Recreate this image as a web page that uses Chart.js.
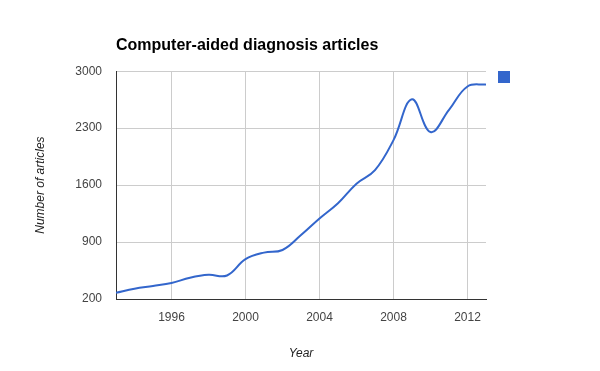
<!DOCTYPE html>
<html>
<head>
<meta charset="utf-8">
<script src="https://cdn.jsdelivr.net/npm/chart.js@4/dist/chart.umd.min.js"></script>
<style>
html,body{margin:0;padding:0;background:#fff;}
#wrap{width:600px;height:371px;position:relative;}
</style>
</head>
<body>
<div id="wrap"><canvas id="c" width="600" height="371"></canvas></div>
<script>
const years = [1993,1994,1995,1996,1997,1998,1999,2000,2001,2002,2003,2004,2005,2006,2007,2008,2009,2010,2011,2012,2013];
const articles = [277,327,360,396,462,497,489,689,770,802,986,1190,1378,1618,1784,2153,2654,2252,2525,2812,2838];
const xTicks = [1996,2000,2004,2008,2012];
const yTicks = [200,900,1600,2300,3000];

const legendSquare = {
  id: 'legendSquare',
  afterDraw(chart) {
    const a = chart.chartArea, ctx = chart.ctx;
    ctx.save();
    ctx.fillStyle = '#3366cc';
    ctx.fillRect(Math.round(a.right) + 12, Math.round(a.top), 12, 12);
    ctx.restore();
  }
};

new Chart(document.getElementById('c'), {
  type: 'line',
  data: {
    datasets: [{
      label: '',
      data: years.map((y, i) => ({x: y, y: articles[i]})),
      borderColor: '#3366cc',
      borderWidth: 2,
      pointRadius: 0,
      tension: 0.4,
      fill: false
    }]
  },
  options: {
    responsive: false,
    animation: false,
    devicePixelRatio: 1,
    layout: {padding: {left: 0, right: 114, top: 0, bottom: 0}},
    plugins: {
      legend: {display: false},
      tooltip: {enabled: false},
      title: {
        display: true,
        text: 'Computer-aided diagnosis articles',
        align: 'start',
        fullSize: false,
        color: '#000',
        font: {family: 'Arial, "Liberation Sans", sans-serif', size: 16, weight: 'bold'},
        padding: {top: 36, bottom: 16}
      }
    },
    scales: {
      x: {
        type: 'linear',
        min: 1993,
        max: 2013,
        afterBuildTicks(scale) { scale.ticks = xTicks.map(v => ({value: v})); },
        afterFit(scale) { scale.height = 72; },
        grid: {color: '#cccccc', drawTicks: false},
        border: {color: '#333333', width: 1},
        ticks: {
          color: '#444',
          padding: 11,
          maxRotation: 0,
          font: {family: 'Arial, "Liberation Sans", sans-serif', size: 12},
          callback: v => String(v)
        },
        title: {
          display: true,
          text: 'Year',
          color: '#222',
          font: {family: 'Arial, "Liberation Sans", sans-serif', size: 12, style: 'italic'},
          padding: {top: 0, bottom: 10}
        }
      },
      y: {
        type: 'linear',
        min: 200,
        max: 3000,
        afterBuildTicks(scale) { scale.ticks = yTicks.map(v => ({value: v})); },
        afterFit(scale) { scale.width = 116; },
        grid: {color: '#cccccc', drawTicks: false},
        border: {color: '#333333', width: 1},
        ticks: {
          color: '#444',
          padding: 14,
          font: {family: 'Arial, "Liberation Sans", sans-serif', size: 12},
          callback: v => String(v)
        },
        title: {
          display: true,
          text: 'Number of articles',
          color: '#222',
          font: {family: 'Arial, "Liberation Sans", sans-serif', size: 12, style: 'italic'},
          padding: {top: 33, bottom: 0}
        }
      }
    }
  },
  plugins: [legendSquare]
});
</script>
</body>
</html>
